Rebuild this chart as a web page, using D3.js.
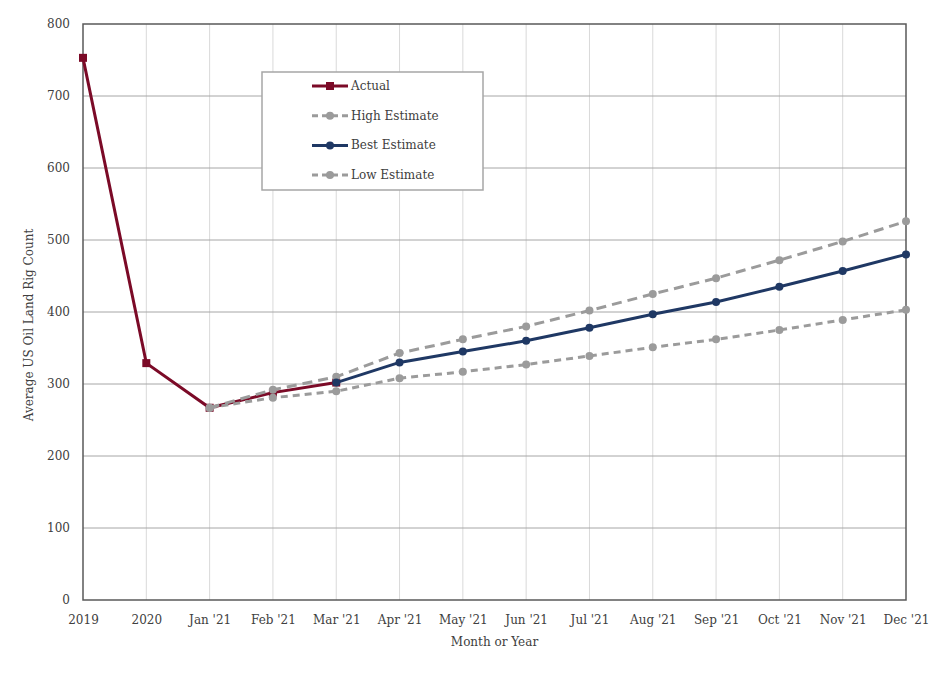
<!DOCTYPE html>
<html><head><meta charset="utf-8">
<script src="https://cdn.jsdelivr.net/npm/d3@7"></script>
<style>body{margin:0;background:#fff}svg text{font-family:"DejaVu Serif",Georgia,serif;fill:#404040}</style>
</head><body><svg id="c" width="936" height="678"></svg>
<script>
const categories = ["2019","2020","Jan '21","Feb '21","Mar '21","Apr '21","May '21","Jun '21","Jul '21","Aug '21","Sep '21","Oct '21","Nov '21","Dec '21"];
const actual = [753,329,267,288,302,null,null,null,null,null,null,null,null,null];
const highEst = [null,null,267,292,310,343,362,380,402,425,447,472,498,526];
const bestEst = [null,null,null,null,302,330,345,360,378,397,414,435,457,480];
const lowEst = [null,null,267,281,290,308,317,327,339,351,362,375,389,403];
const yTicks = [0,100,200,300,400,500,600,700,800];

const svg = d3.select("#c");
const m = {l:83, r:906, t:24, b:600};
const x = d3.scalePoint().domain(categories).range([m.l, m.r]);
const y = d3.scaleLinear().domain([0,800]).range([m.b, m.t]);

// vertical grid
svg.append("g").selectAll("line").data(categories.slice(1,-1)).join("line")
  .attr("x1", d=>x(d)).attr("x2", d=>x(d)).attr("y1", m.t).attr("y2", m.b)
  .attr("stroke","#d9d9d9").attr("stroke-width",1);
// horizontal grid
svg.append("g").selectAll("line").data(yTicks.slice(1,-1)).join("line")
  .attr("x1", m.l).attr("x2", m.r).attr("y1", d=>y(d)).attr("y2", d=>y(d))
  .attr("stroke","#a6a6a6").attr("stroke-width",1);
// border
svg.append("rect").attr("x",m.l).attr("y",m.t).attr("width",m.r-m.l).attr("height",m.b-m.t)
  .attr("fill","none").attr("stroke","#595959").attr("stroke-width",1.5);

// axes
const yAxis = d3.axisLeft(y).tickValues(yTicks).tickSize(0).tickPadding(13);
svg.append("g").attr("transform",`translate(${m.l},0)`).call(yAxis)
  .call(g=>g.select(".domain").remove())
  .selectAll("text").attr("font-size",12).attr("font-family","DejaVu Serif").attr("fill","#404040");
const xAxis = d3.axisBottom(x).tickSize(0).tickPadding(15);
svg.append("g").attr("transform",`translate(0,${m.b})`).call(xAxis)
  .call(g=>g.select(".domain").remove())
  .selectAll("text").attr("font-size",12).attr("font-family","DejaVu Serif").attr("fill","#404040");

svg.append("text").attr("x",(m.l+m.r)/2).attr("y",646).attr("text-anchor","middle")
  .attr("font-size",12).text("Month or Year");
svg.append("text").attr("transform",`translate(33,325) rotate(-90)`).attr("text-anchor","middle")
  .attr("font-size",12).text("Average US Oil Land Rig Count");

const series = [
  {name:"Actual", data:actual, color:"#7b0a27", dash:null, marker:"square"},
  {name:"High Estimate", data:highEst, color:"#9b9b9b", dash:"10,6", marker:"circle"},
  {name:"Best Estimate", data:bestEst, color:"#1f3864", dash:null, marker:"circle"},
  {name:"Low Estimate", data:lowEst, color:"#9b9b9b", dash:"7,5", marker:"circle"}
];
const line = d3.line().defined(d=>d.v!=null).x(d=>x(d.c)).y(d=>y(d.v));
series.forEach(s=>{
  const pts = categories.map((c,i)=>({c, v:s.data[i]}));
  svg.append("path").datum(pts).attr("d",line).attr("fill","none")
    .attr("stroke",s.color).attr("stroke-width",3).attr("stroke-dasharray",s.dash);
  const valid = pts.filter(d=>d.v!=null);
  if(s.marker==="square"){
    svg.append("g").selectAll("rect").data(valid).join("rect")
      .attr("x",d=>x(d.c)-4).attr("y",d=>y(d.v)-4).attr("width",8).attr("height",8).attr("fill",s.color);
  } else {
    svg.append("g").selectAll("circle").data(valid).join("circle")
      .attr("cx",d=>x(d.c)).attr("cy",d=>y(d.v)).attr("r",4).attr("fill",s.color);
  }
});

// legend
const lg = svg.append("g");
lg.append("rect").attr("x",262).attr("y",72).attr("width",221).attr("height",118)
  .attr("fill","#fff").attr("stroke","#a6a6a6").attr("stroke-width",1.5);
series.forEach((s,i)=>{
  const yy = 86 + i*29.7;
  lg.append("line").attr("x1",312).attr("x2",348).attr("y1",yy).attr("y2",yy)
    .attr("stroke",s.color).attr("stroke-width",3).attr("stroke-dasharray",s.dash?"6,4":null);
  if(s.marker==="square") lg.append("rect").attr("x",326).attr("y",yy-4).attr("width",8).attr("height",8).attr("fill",s.color);
  else lg.append("circle").attr("cx",330).attr("cy",yy).attr("r",4).attr("fill",s.color);
  lg.append("text").attr("x",351).attr("y",yy+4).attr("font-size",12).text(s.name);
});
</script></body></html>
